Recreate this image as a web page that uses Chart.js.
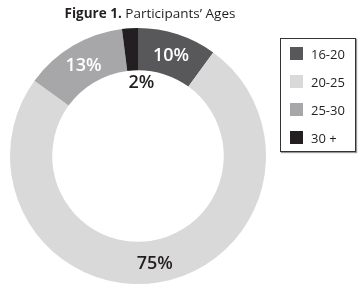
<!DOCTYPE html>
<html>
<head>
<meta charset="utf-8">
<script src="https://cdn.jsdelivr.net/npm/chart.js@4/dist/chart.umd.min.js"></script>
<style>
	body { margin: 0; background: #fff; font-family: 'Open Sans', sans-serif; color: #231f20; }
	#wrap { position: relative; width: 360px; height: 288px; }
	#title { position: absolute; left: 0; top: 4px; width: 300px; text-align: center; font-size: 13.5px; }
	#legend { position: absolute; left: 280px; top: 38px; width: 76px; height: 114px; border: 1px solid #333; box-sizing: border-box; box-shadow: 1px 1px 1px #999; }
	.item { position: absolute; left: 9px; height: 14px; font-size: 13px; line-height: 14px; }
	.sw { display: inline-block; width: 13px; height: 13px; vertical-align: top; margin-right: 8px; }
</style>
</head>
<body>
<div id="wrap">
	<canvas id="chart" width="360" height="288"></canvas>
	<div id="title"><b>Figure 1.</b> Participants’ Ages</div>
	<div id="legend"></div>
</div>
<script>
const labels = ['16-20', '20-25', '25-30', '30 +'];
const values = [10, 75, 13, 2];
const colors = ['#58585a', '#d9d9da', '#a7a7a9', '#231f20'];
const textColors = ['#ffffff', '#231f20', '#ffffff', '#231f20'];

// legend as html, boxed like the original
const legend = document.getElementById('legend');
labels.forEach((l, i) => {
	const d = document.createElement('div');
	d.className = 'item';
	d.style.top = (8 + i * 28) + 'px';
	d.innerHTML = '<span class="sw" style="background:' + colors[i] + '"></span>' + l;
	legend.appendChild(d);
});

const sliceLabels = {
	id: 'sliceLabels',
	afterDatasetsDraw(chart) {
		const ctx = chart.ctx;
		const meta = chart.getDatasetMeta(0);
		ctx.save();
		ctx.font = '600 18px "Open Sans"';
		ctx.textAlign = 'center';
		ctx.textBaseline = 'middle';
		meta.data.forEach((arc, i) => {
			let x, y;
			if (values[i] < 5) {
				// small slice: label sits just inside the hole
				const mid = (arc.startAngle + arc.endAngle) / 2;
				const r = arc.innerRadius - 12;
				x = arc.x + Math.cos(mid) * r + 8;
				y = arc.y + Math.sin(mid) * r;
			} else {
				const p = arc.tooltipPosition();
				x = p.x;
				y = p.y + 2;
			}
			ctx.fillStyle = textColors[i];
			ctx.fillText(values[i] + '%', x, y);
		});
		ctx.restore();
	}
};

new Chart(document.getElementById('chart').getContext('2d'), {
	type: 'doughnut',
	data: {
		labels: labels,
		datasets: [{
			data: values,
			backgroundColor: colors,
			borderWidth: 0,
		}],
	},
	options: {
		responsive: false,
		animation: false,
		cutout: '67%',
		layout: { padding: { left: 10, right: 94, top: 28, bottom: 4 } },
		plugins: {
			legend: { display: false },
			tooltip: { enabled: false },
		},
	},
	plugins: [sliceLabels],
});
</script>
</body>
</html>
